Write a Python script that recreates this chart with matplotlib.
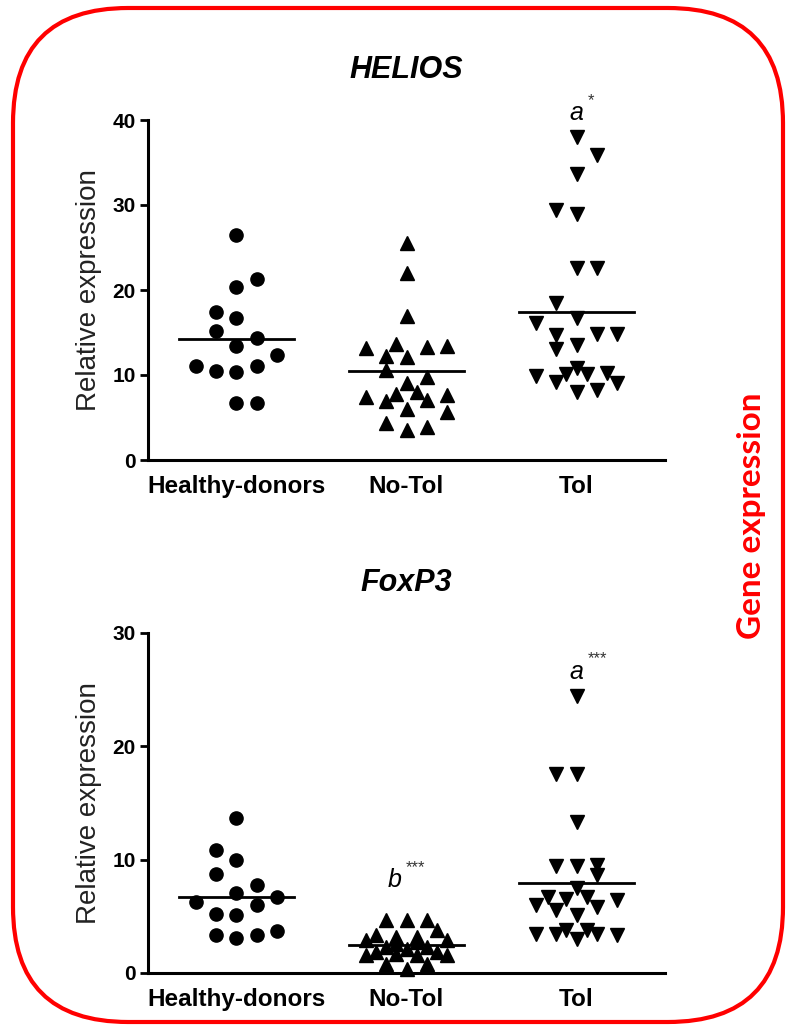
import numpy as np
import matplotlib
matplotlib.use("Agg")
import matplotlib.pyplot as plt
from matplotlib.patches import FancyBboxPatch

plt.rcParams['font.family'] = ['Liberation Sans', 'DejaVu Sans']

# ---------------- data ----------------
groups = ["Healthy-donors", "No-Tol", "Tol"]
markers = ["o", "^", "v"]

# HELIOS
helios_hd = [26.5, 21.3, 20.3, 17.4, 16.7, 15.2, 14.3, 13.4, 12.3, 11.1, 10.5, 10.3, 11.1, 6.7, 6.7]
helios_hd_jit = [0, 1, 0, -1, 0, -1, 1, 0, 2, -2, -1, 0, 1, 0, 1]
helios_nt = [25.5, 22.0, 16.9, 13.2, 13.6, 13.3, 13.45, 12.2, 12.1, 10.6, 9.8, 9.1,
             8.0, 7.8, 7.45, 6.9, 7.06, 7.65, 5.96, 5.7, 4.3, 3.9, 3.5]
helios_nt_jit = [0, 0, 0, -2, -0.5, 1, 2, -1, 0, -1, 1, 0,
                 0.5, -0.5, -2, -1, 1, 2, 0, 2, -1, 1, 0]
helios_tol = [38.0, 35.9, 33.7, 29.4, 28.9, 22.55, 22.55, 18.5, 16.15, 16.7, 14.7, 14.8,
              14.8, 13.5, 13.1, 10.8, 10.1, 10.1, 10.2, 9.9, 9.2, 9.1, 8.0, 8.2]
helios_tol_jit = [0, 1, 0, -1, 0, 0, 1, -1, -2, 0, -1, 1,
                  2, 0, -1, 0, -0.5, 0.5, 1.5, -2, -1, 2, 0, 1]

# FoxP3
foxp3_hd = [13.65, 10.85, 9.96, 8.73, 7.75, 7.02, 6.72, 6.28, 5.99, 5.25, 5.1, 3.71, 3.33, 3.13, 3.33]
foxp3_hd_jit = [0, -1, 0, -1, 1, 0, 2, -2, 1, -1, 0, 2, -1, 0, 1]
foxp3_nt = [4.66, 4.66, 4.66, 3.78, 3.33, 3.18, 3.18, 2.89, 2.89, 2.3, 2.15, 2.3,
            1.86, 1.86, 1.56, 1.71, 1.56, 1.56, 0.83, 0.83, 0.39, 2.6, 2.7]
foxp3_nt_jit = [-1, 0, 1, 1.5, -1.5, -0.5, 0.5, 2, -2, -1, 0, 1,
                -1.5, 1.5, -2, -0.5, 0.5, 2, -1, 1, 0, -0.5, 0.5]
foxp3_tol = [24.4, 17.6, 17.6, 13.35, 9.43, 9.43, 9.52, 8.64, 7.46, 6.72, 6.49, 6.72,
             6.43, 5.99, 5.55, 5.78, 5.1, 3.48, 3.48, 3.78, 3.78, 3.04, 3.48, 3.33]
foxp3_tol_jit = [0, -1, 0, 0, -1, 0, 1, 1, 0, -1.4, -0.5, 0.5,
                 2, -2, -1, 1, 0, -2, -1, -0.5, 0.5, 0, 1, 2]

panels = [
    ("HELIOS", [helios_hd, helios_nt, helios_tol],
     [helios_hd_jit, helios_nt_jit, helios_tol_jit], 40, [0, 10, 20, 30, 40]),
    ("FoxP3", [foxp3_hd, foxp3_nt, foxp3_tol],
     [foxp3_hd_jit, foxp3_nt_jit, foxp3_tol_jit], 30, [0, 10, 20, 30]),
]

W, H = 792, 1026
fig = plt.figure(figsize=(W / 100, H / 100), dpi=100)

# background axes in pixel units for the red rounded frame
bg = fig.add_axes([0, 0, 1, 1], zorder=-1)
bg.set_xlim(0, W)
bg.set_ylim(H, 0)
bg.axis('off')
bg.add_patch(FancyBboxPatch((13, 8), 770, 1014,
                            boxstyle="round,pad=0,rounding_size=115",
                            fc='none', ec='#ff0000', lw=3.0))

step = 0.12  # jitter step in category units
ax_pos = [[148 / W, 1 - 460 / H, 517 / W, 340 / H],
          [148 / W, 1 - 973 / H, 517 / W, 340 / H]]

axes = []
for (title, vals, jits, ymax, yticks), pos in zip(panels, ax_pos):
    ax = fig.add_axes(pos)
    for i, (v, j, m) in enumerate(zip(vals, jits, markers)):
        x = i + np.array(j) * step
        ms = 9.5 if m == "o" else 10
        ax.plot(x, v, linestyle='none', marker=m, ms=ms, color='black', clip_on=False)
        mu = np.mean(v)
        ax.plot([i - 0.34, i + 0.34], [mu, mu], color='black', lw=2.0, zorder=3)
    ax.set_xlim(-0.52, 2.52)
    ax.set_ylim(0, ymax)
    ax.set_yticks(yticks)
    ax.set_xticks(range(3))
    ax.set_xticklabels(groups, fontsize=17.5, fontweight='bold')
    ax.tick_params(axis='x', length=0, pad=11)
    ax.tick_params(axis='y', length=6, width=2, labelsize=15, pad=3)
    for lab in ax.get_yticklabels():
        lab.set_fontweight('bold')
    for s in ['top', 'right']:
        ax.spines[s].set_visible(False)
    for s in ['left', 'bottom']:
        ax.spines[s].set_linewidth(2.2)
    ax.set_ylabel("Relative expression", fontsize=20, color='#222222', labelpad=7)
    ax.set_title(title, fontsize=22, fontweight='bold', style='italic', pad=30)
    axes.append(ax)

# significance letters
def mark(ax, x, y, letter, stars):
    ax.text(x, y, letter, fontsize=18, style='italic', ha='center', va='center', clip_on=False)
    ax.annotate(stars, (x, y), xytext=(8, 9), textcoords='offset points',
                fontsize=12, ha='left', va='center', color='#333333',
                annotation_clip=False)

mark(axes[0], 2, 40.8, "a", "*")
mark(axes[1], 2, 26.6, "a", "***")
mark(axes[1], 0.93, 8.2, "b", "***")

fig.text(751 / W, 1 - 516 / H, "Gene expression", rotation=90, color='#ff0000',
         fontsize=24, fontweight='bold', family=['Lato', 'DejaVu Sans'],
         ha='center', va='center')

fig.savefig("out.png", dpi=100)
